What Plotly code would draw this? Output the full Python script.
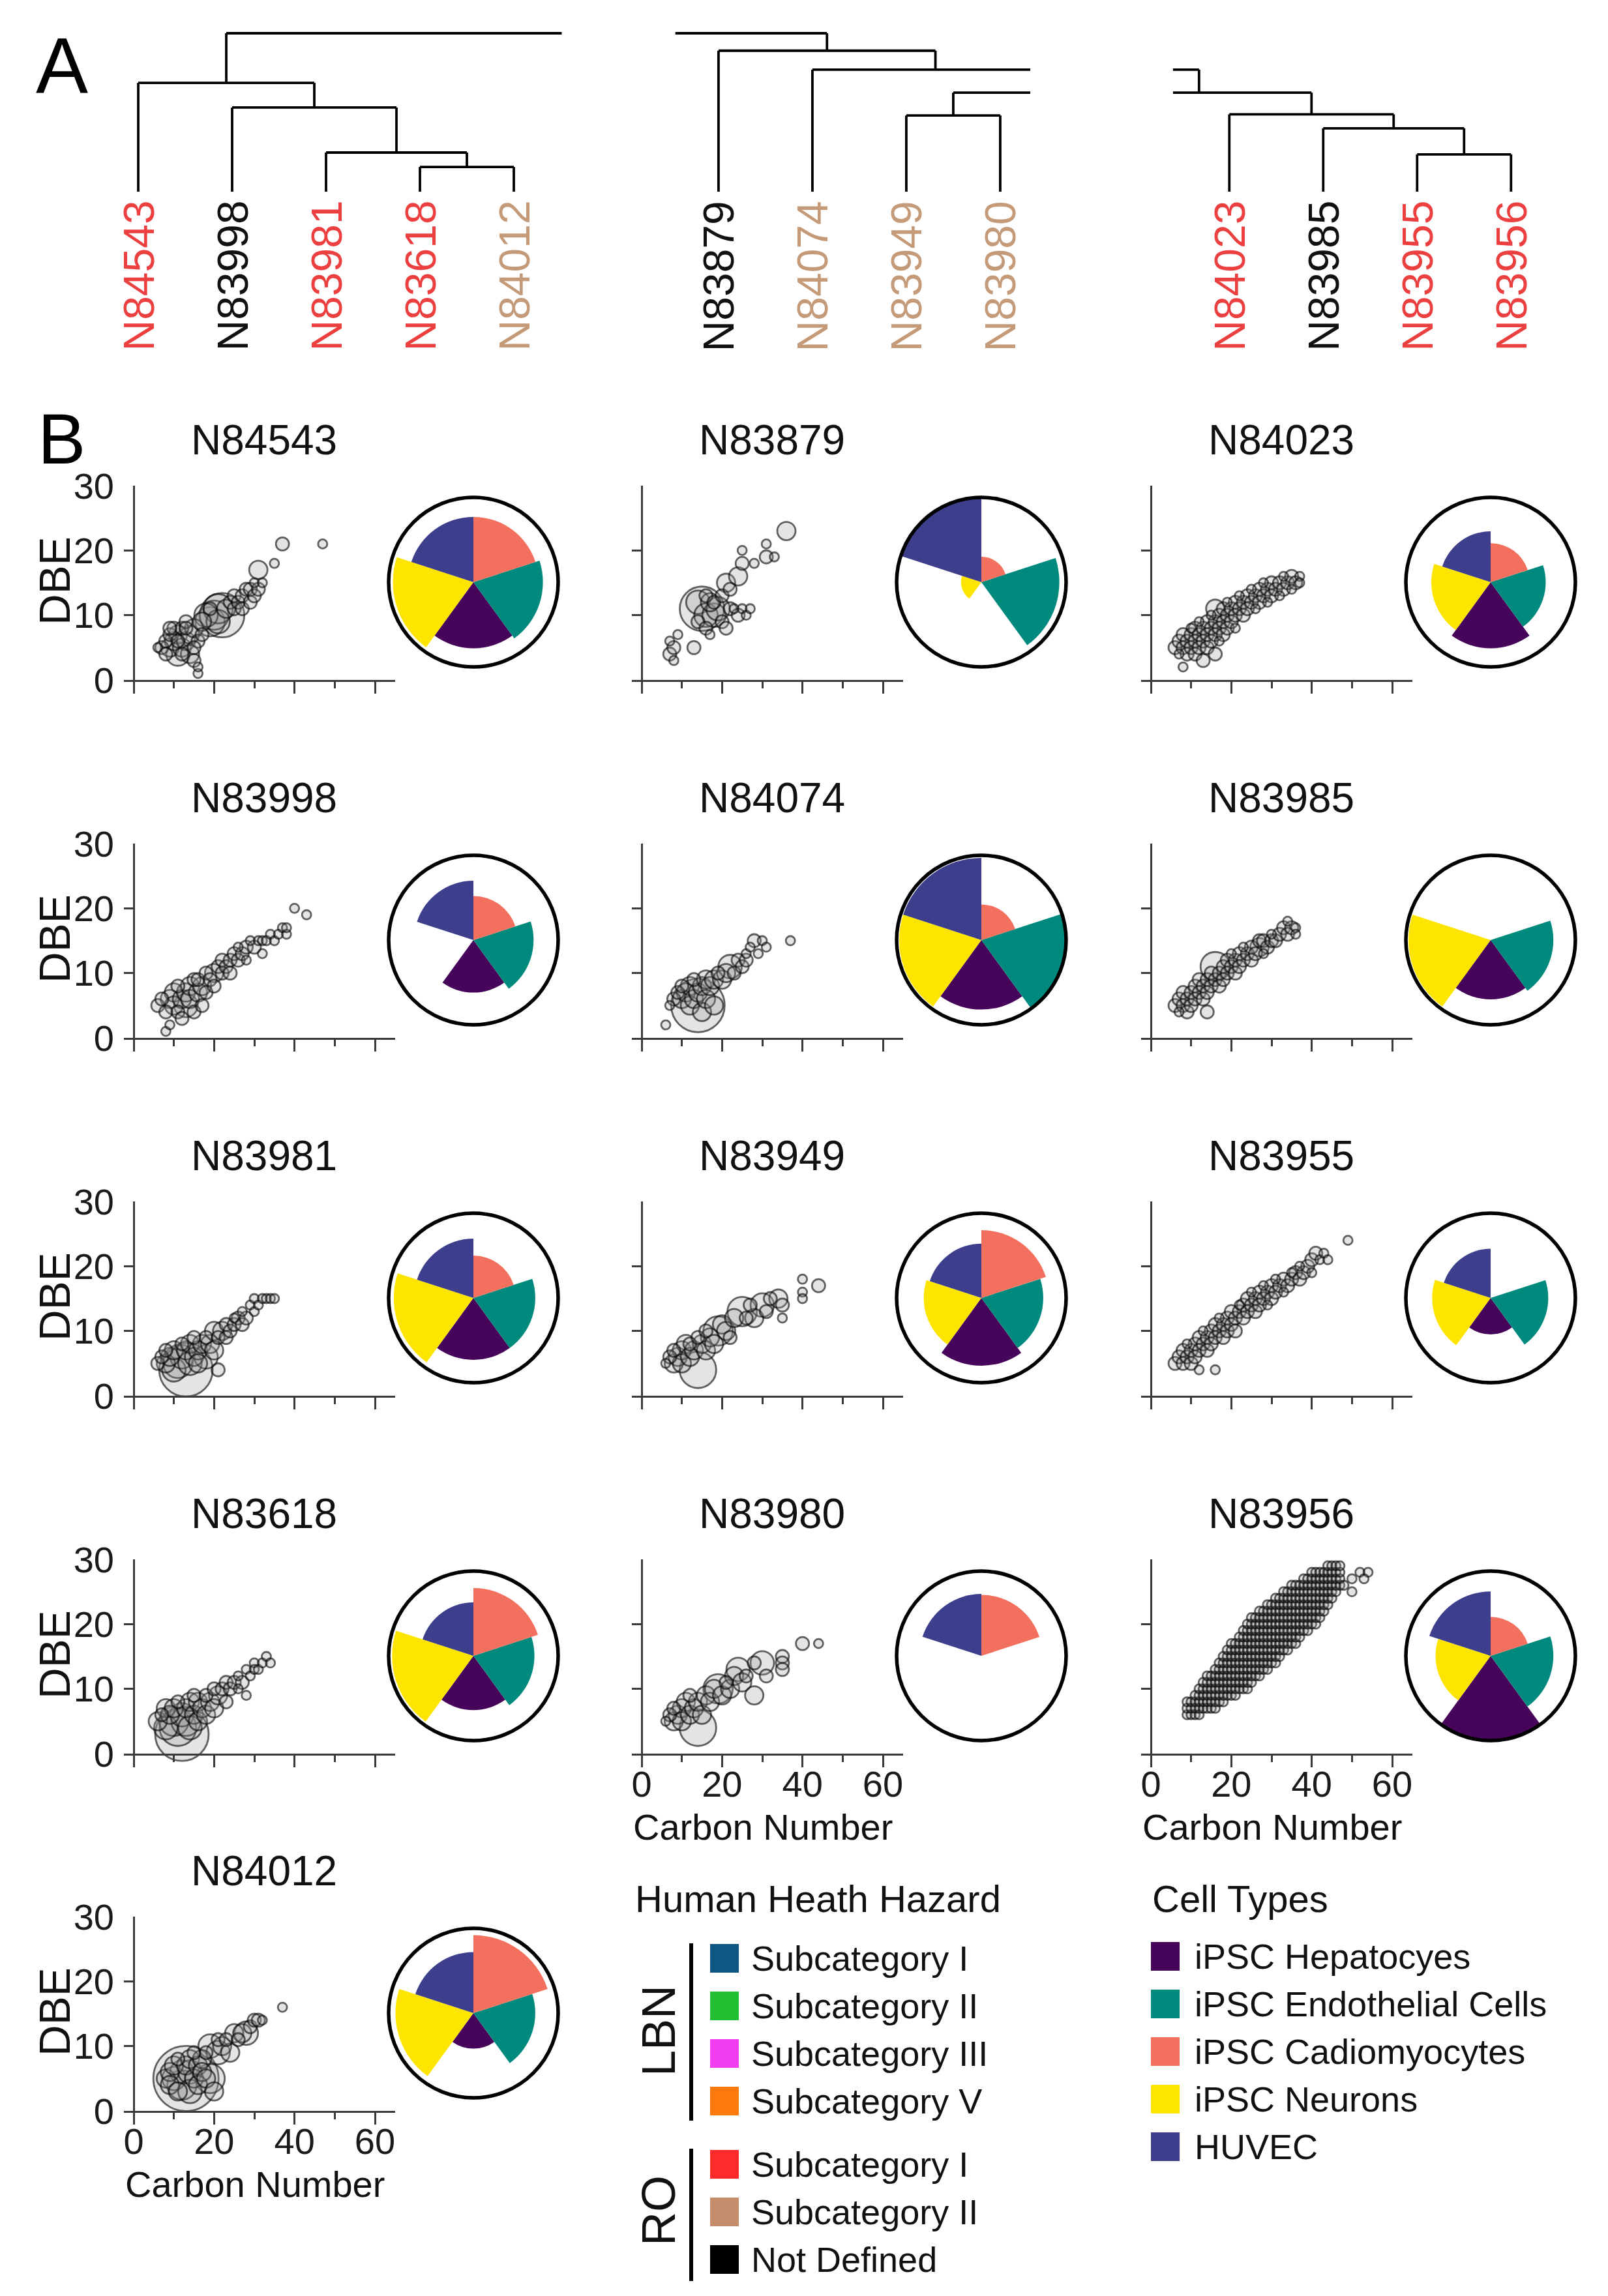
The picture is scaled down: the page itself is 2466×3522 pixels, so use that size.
import plotly.graph_objects as go

# ------------------------------------------------------------------ canvas
W, H = 2466, 3522
OFF = 8                      # browser body margin compensation
FW, FH = W - 2 * OFF, H - 2 * OFF
FONT = "Liberation Sans, Arial, Helvetica, sans-serif"


def px_x(p):
    return (p - OFF) / FW


def px_y(p):
    return 1 - (p - OFF) / FH


# ------------------------------------------------------------------ DATA
# Panel A: dendrogram
leaf_names = ["N84543", "N83998", "N83981", "N83618", "N84012",
              "N83879", "N84074", "N83949", "N83980",
              "N84023", "N83985", "N83955", "N83956"]
leaf_group = [0, 0, 0, 0, 0, 1, 1, 1, 1, 2, 2, 2, 2]
leaf_hazard = ["RO I", "RO ND", "RO I", "RO I", "RO II",
               "RO ND", "RO II", "RO II", "RO II",
               "RO I", "RO ND", "RO I", "RO I"]
# hidden leaves of the parts of the tree that are cut out of the figure
ghost_leaves = {"gA": 10.92, "gC": 10.1, "gD": 9.9}
# (node, left child, right child, height)
merges = [
    ("m1", "N83618", "N84012", 1.56),
    ("m2", "N83981", "m1", 2.47),
    ("m3", "N83998", "m2", 5.31),
    ("m4", "N84543", "m3", 6.87),
    ("m5", "N83949", "N83980", 4.81),
    ("nY", "m5", "gA", 6.25),
    ("nX", "N84074", "nY", 7.7),
    ("nV", "N83879", "nX", 8.9),
    ("nR", "m4", "nV", 10.0),
    ("m6", "N83955", "N83956", 2.35),
    ("m7", "N83985", "m6", 4.0),
    ("m8", "N84023", "m7", 4.88),
    ("nZ", "gC", "m8", 6.25),
    ("nW", "gD", "nZ", 7.7),
]
# visible pieces of the tree (leaf units)
visible_windows = [(-1.0, 4.51), (5.72, 9.5), (11.02, 15.2)]

# Panel B: cell types (pie sectors)
cell_types = ["iPSC Hepatocyes", "iPSC Endothelial Cells", "iPSC Cadiomyocytes",
              "iPSC Neurons", "HUVEC"]
cell_theta = [180, 108, 36, 252, 324]
# relative activity per cell type (order as cell_types)
pie_N84543 = [0.78, 0.82, 0.77, 0.95, 0.77]
pie_N83998 = [0.62, 0.71, 0.52, 0.00, 0.70]
pie_N83981 = [0.73, 0.73, 0.50, 0.94, 0.70]
pie_N83618 = [0.64, 0.72, 0.80, 0.96, 0.63]
pie_N84012 = [0.42, 0.73, 0.92, 0.92, 0.72]
pie_N83879 = [0.00, 0.92, 0.30, 0.24, 1.00]
pie_N84074 = [0.82, 1.00, 0.42, 0.97, 0.97]
pie_N83949 = [0.80, 0.73, 0.80, 0.68, 0.64]
pie_N83980 = [0.00, 0.00, 0.72, 0.00, 0.73]
pie_N84023 = [0.78, 0.65, 0.46, 0.70, 0.60]
pie_N83985 = [0.70, 0.74, 0.00, 0.97, 0.00]
pie_N83955 = [0.43, 0.68, 0.00, 0.69, 0.58]
pie_N83956 = [1.00, 0.74, 0.46, 0.65, 0.76]

# Carbon number / DBE bubbles: (carbon number, DBE, relative abundance level)
pts_N84543 = [(6, 5, 1), (7, 5, 2), (8, 6, 2), (8, 4, 2), (9, 7, 2), (9, 5, 3), (10, 6, 3),
              (10, 8, 2), (11, 4, 4), (11, 7, 3), (12, 5, 3), (12, 8, 2), (13, 6, 3), (13, 9, 2),
              (14, 4, 3), (14, 7, 3), (15, 8, 3), (15, 3, 2), (16, 1, 1), (16, 2, 1), (16, 6, 2),
              (17, 9, 3), (18, 10, 4), (19, 9, 5), (20, 10, 5), (22, 10, 7), (21, 11, 5),
              (21, 9, 4), (23, 11, 3), (24, 12, 2), (25, 11, 2), (25, 13, 2), (26, 12, 2),
              (27, 13, 2), (27, 11, 2), (28, 14, 2), (29, 12, 2), (29, 14, 2), (30, 13, 2),
              (30, 15, 1), (31, 14, 2), (31, 17, 3), (32, 15, 1), (35, 18, 1), (37, 21, 2),
              (47, 21, 1), (9, 8, 2), (11, 6, 2), (12, 4, 2), (13, 8, 2), (15, 5, 2),
              (17, 7, 2), (19, 11, 2)]
pts_N83998 = [(6, 5, 2), (7, 6, 2), (8, 4, 2), (8, 1, 1), (9, 2, 1), (9, 6, 3), (10, 7, 3),
              (10, 5, 3), (11, 4, 2), (11, 8, 2), (12, 6, 3), (12, 3, 2), (13, 7, 3), (13, 5, 4),
              (14, 8, 3), (14, 6, 3), (15, 4, 2), (15, 9, 2), (16, 7, 3), (16, 9, 2), (17, 8, 3),
              (17, 5, 2), (18, 10, 2), (18, 7, 2), (19, 9, 2), (20, 10, 3), (20, 8, 2),
              (21, 11, 2), (22, 10, 2), (22, 12, 2), (23, 11, 2), (24, 12, 2), (24, 10, 2),
              (25, 13, 2), (26, 12, 2), (26, 14, 1), (27, 13, 2), (28, 14, 2), (28, 12, 1),
              (29, 15, 1), (30, 14, 2), (31, 15, 1), (32, 13, 1), (32, 15, 1), (33, 15, 1),
              (34, 16, 1), (35, 15, 1), (36, 16, 1), (37, 17, 1), (38, 16, 1), (38, 17, 1),
              (40, 20, 1), (43, 19, 1)]
pts_N83981 = [(6, 5, 2), (7, 6, 2), (8, 5, 3), (8, 7, 2), (9, 6, 3), (10, 4, 4), (10, 7, 3),
              (11, 5, 5), (12, 6, 4), (12, 8, 2), (13, 4, 8), (13, 7, 3), (14, 5, 4), (14, 8, 3),
              (15, 6, 3), (15, 9, 2), (16, 7, 3), (16, 5, 3), (17, 8, 3), (18, 9, 2), (18, 6, 4),
              (19, 8, 3), (20, 10, 3), (20, 7, 3), (21, 9, 2), (21, 4, 2), (22, 10, 3),
              (23, 11, 2), (23, 9, 2), (24, 10, 2), (25, 11, 2), (25, 12, 1), (26, 12, 2),
              (27, 11, 2), (27, 13, 1), (28, 12, 2), (29, 14, 1), (30, 13, 1), (30, 15, 1),
              (31, 14, 1), (32, 15, 1), (33, 15, 1), (34, 15, 1), (35, 15, 1)]
pts_N83618 = [(6, 5, 3), (7, 6, 2), (8, 7, 3), (8, 4, 4), (9, 6, 3), (10, 5, 5), (10, 7, 3),
              (11, 4, 6), (11, 8, 2), (12, 3, 8), (12, 6, 4), (13, 5, 5), (13, 7, 3), (14, 4, 4),
              (14, 8, 3), (15, 6, 3), (15, 9, 2), (16, 5, 3), (16, 8, 3), (17, 7, 3), (18, 9, 2),
              (18, 6, 3), (19, 8, 3), (20, 10, 2), (20, 7, 3), (21, 9, 3), (22, 10, 2),
              (23, 11, 2), (23, 8, 2), (24, 10, 2), (25, 11, 2), (26, 12, 1), (26, 10, 1),
              (27, 11, 2), (28, 9, 1), (28, 13, 1), (29, 12, 1), (30, 14, 1), (30, 13, 1),
              (31, 13, 1), (32, 14, 1), (33, 15, 1), (34, 14, 1)]
pts_N84012 = [(8, 5, 3), (9, 6, 3), (9, 4, 3), (10, 7, 3), (10, 5, 4), (11, 8, 2), (11, 3, 3),
              (12, 6, 4), (12, 4, 5), (13, 5, 9), (13, 7, 3), (14, 8, 3), (14, 6, 4), (14, 3, 4),
              (15, 9, 2), (15, 5, 3), (16, 7, 3), (16, 4, 3), (17, 8, 3), (17, 6, 3), (18, 9, 2),
              (18, 5, 3), (19, 10, 4), (19, 5, 5), (20, 3, 3), (21, 9, 4), (21, 11, 2),
              (22, 10, 3), (23, 11, 2), (24, 9, 3), (25, 12, 3), (26, 11, 2), (27, 12, 3),
              (28, 12, 4), (29, 13, 2), (30, 14, 2), (31, 14, 2), (32, 14, 1), (37, 16, 1)]
pts_N83879 = [(7, 4, 2), (7, 6, 1), (8, 5, 2), (9, 7, 1), (8, 3, 1), (13, 5, 2), (14, 9, 2),
              (14, 12, 4), (15, 11, 7), (16, 10, 4), (16, 8, 2), (16, 13, 2), (17, 12, 3),
              (17, 7, 1), (18, 10, 4), (18, 12, 2), (19, 11, 4), (20, 9, 2), (20, 13, 2),
              (21, 8, 2), (21, 15, 3), (22, 11, 2), (22, 14, 2), (23, 11, 1), (24, 16, 3),
              (24, 10, 2), (25, 11, 1), (25, 18, 2), (26, 10, 1), (27, 11, 1), (25, 20, 1),
              (28, 18, 1), (31, 19, 2), (33, 19, 1), (31, 21, 1), (36, 23, 3)]
pts_N84074 = [(6, 2, 1), (7, 5, 1), (8, 6, 2), (9, 7, 2), (10, 6, 3), (10, 8, 2), (11, 7, 3),
              (12, 8, 3), (12, 5, 3), (13, 6, 3), (13, 9, 2), (14, 7, 3), (14, 5, 8), (15, 8, 3),
              (15, 4, 3), (16, 9, 3), (16, 6, 3), (17, 8, 3), (18, 9, 3), (18, 5, 3), (19, 10, 2),
              (20, 9, 3), (21, 10, 3), (22, 11, 4), (23, 10, 2), (24, 12, 2), (25, 11, 2),
              (26, 12, 2), (26, 13, 1), (27, 14, 1), (28, 15, 2), (29, 13, 1), (30, 15, 1),
              (31, 14, 1), (37, 15, 1)]
pts_N83949 = [(6, 5, 1), (7, 6, 2), (8, 5, 3), (8, 7, 2), (9, 6, 3), (10, 7, 3), (10, 5, 3),
              (11, 8, 3), (12, 6, 3), (12, 8, 2), (13, 7, 3), (14, 9, 2), (14, 4, 6), (15, 8, 3),
              (16, 7, 3), (16, 10, 2), (17, 9, 3), (18, 8, 3), (19, 10, 5), (20, 11, 3),
              (21, 10, 3), (22, 9, 2), (23, 12, 3), (25, 13, 5), (26, 12, 2), (27, 14, 2),
              (28, 12, 3), (30, 14, 4), (31, 13, 2), (32, 15, 2), (34, 15, 3), (35, 14, 2),
              (35, 12, 1), (40, 18, 1), (40, 16, 1), (40, 15, 1), (44, 17, 2)]
pts_N83980 = [(6, 5, 1), (7, 6, 2), (8, 5, 3), (8, 7, 2), (9, 6, 3), (10, 7, 3), (10, 5, 3),
              (11, 8, 3), (12, 6, 3), (12, 9, 2), (13, 7, 3), (14, 8, 3), (14, 4, 6), (15, 6, 3),
              (16, 9, 3), (17, 8, 3), (18, 10, 3), (19, 10, 5), (20, 9, 3), (21, 11, 2),
              (22, 10, 3), (23, 12, 3), (24, 13, 4), (25, 11, 3), (26, 12, 2), (28, 9, 3),
              (28, 14, 2), (30, 14, 4), (31, 12, 2), (35, 15, 2), (35, 14, 2), (35, 13, 2),
              (40, 17, 2), (44, 17, 1)]
pts_N84023 = [(6, 5, 2), (7, 6, 2), (7, 4, 1), (8, 5, 2), (8, 7, 2), (8, 2, 1), (9, 6, 2),
              (9, 4, 2), (10, 7, 2), (10, 5, 2), (10, 8, 1), (11, 6, 2), (11, 4, 2), (11, 8, 2),
              (12, 7, 2), (12, 5, 2), (12, 9, 1), (13, 8, 2), (13, 6, 2), (13, 3, 2), (14, 9, 2),
              (14, 7, 2), (14, 5, 2), (15, 8, 2), (15, 6, 2), (15, 10, 1), (16, 11, 3),
              (16, 9, 2), (16, 7, 2), (16, 4, 2), (17, 10, 2), (17, 8, 2), (17, 6, 1),
              (18, 9, 2), (18, 11, 2), (18, 7, 2), (19, 10, 2), (19, 8, 2), (19, 12, 1),
              (20, 11, 2), (20, 9, 2), (21, 10, 2), (21, 12, 2), (21, 8, 1), (22, 11, 2),
              (22, 13, 1), (23, 12, 2), (23, 10, 2), (24, 11, 2), (24, 13, 2), (25, 12, 2),
              (25, 14, 1), (26, 13, 2), (26, 11, 1), (27, 12, 2), (27, 14, 2), (28, 13, 2),
              (28, 15, 1), (29, 14, 2), (29, 12, 1), (30, 13, 2), (30, 15, 2), (31, 14, 2),
              (32, 15, 2), (32, 13, 1), (33, 14, 2), (33, 16, 1), (34, 15, 2), (35, 16, 2),
              (35, 14, 1), (36, 15, 2), (37, 16, 1), (37, 15, 1)]
pts_N83985 = [(6, 5, 2), (7, 6, 2), (7, 4, 1), (8, 5, 2), (8, 7, 2), (9, 6, 2), (9, 4, 2),
              (10, 7, 2), (10, 5, 2), (11, 8, 2), (11, 6, 2), (12, 7, 2), (12, 9, 2), (13, 8, 2),
              (13, 6, 2), (14, 9, 2), (14, 4, 2), (14, 7, 2), (15, 10, 2), (15, 8, 2),
              (16, 11, 5), (16, 9, 2), (17, 10, 2), (17, 8, 2), (18, 11, 2), (18, 9, 2),
              (19, 12, 2), (19, 10, 2), (20, 11, 2), (20, 13, 1), (21, 12, 2), (21, 10, 2),
              (22, 13, 2), (22, 11, 2), (23, 12, 2), (23, 14, 1), (24, 13, 2), (25, 14, 2),
              (25, 12, 2), (26, 13, 2), (27, 14, 3), (27, 15, 2), (28, 15, 2), (28, 13, 1),
              (29, 14, 2), (30, 15, 2), (30, 16, 1), (31, 15, 2), (32, 16, 2), (33, 17, 2),
              (34, 18, 1), (34, 16, 2), (35, 17, 2), (36, 17, 1), (36, 16, 1)]
pts_N83955 = [(6, 5, 2), (7, 6, 2), (8, 5, 2), (8, 7, 2), (9, 6, 2), (9, 8, 1), (10, 7, 2),
              (10, 5, 2), (11, 8, 2), (11, 6, 2), (12, 7, 2), (12, 9, 2), (12, 4, 1), (13, 8, 2),
              (13, 10, 1), (14, 9, 2), (14, 7, 2), (15, 10, 2), (15, 8, 2), (16, 4, 1),
              (16, 9, 2), (16, 11, 2), (17, 10, 2), (17, 12, 1), (18, 11, 2), (18, 9, 2),
              (19, 12, 2), (19, 10, 2), (20, 13, 2), (20, 11, 2), (21, 12, 2), (21, 10, 2),
              (22, 13, 2), (22, 14, 1), (23, 12, 2), (23, 14, 2), (24, 13, 2), (24, 15, 2),
              (25, 14, 2), (25, 16, 1), (26, 15, 2), (26, 13, 2), (27, 16, 2), (27, 14, 2),
              (28, 15, 2), (28, 17, 1), (29, 16, 2), (29, 14, 1), (30, 17, 2), (30, 15, 2),
              (31, 16, 2), (31, 18, 1), (32, 17, 2), (33, 18, 2), (33, 16, 1), (34, 17, 2),
              (35, 18, 2), (35, 19, 1), (36, 19, 2), (37, 18, 2), (37, 20, 1), (38, 19, 2),
              (39, 20, 2), (40, 21, 2), (40, 19, 1), (41, 22, 2), (42, 21, 1), (43, 22, 1),
              (44, 21, 1), (49, 24, 1)]
# N83956 is a dense grid: for each carbon number the DBE span that is filled
band_N83956_c = [9, 10, 11, 12, 13, 14, 15, 16, 17, 18, 19, 20, 21, 22, 23, 24, 25, 26, 27, 28,
                 29, 30, 31, 32, 33, 34, 35, 36, 37, 38, 39, 40, 41, 42, 43, 44, 45, 46, 47]
band_N83956_lo = [6, 6, 6, 6, 7, 7, 7, 7, 8, 8, 9, 9, 9, 10, 10, 10, 11, 12, 12, 13,
                  13, 14, 14, 15, 16, 16, 17, 17, 18, 19, 19, 20, 20, 21, 22, 23, 24, 25, 26]
band_N83956_hi = [8, 8, 9, 10, 11, 12, 12, 13, 14, 15, 16, 17, 17, 18, 19, 20, 21, 21, 22, 22,
                  23, 23, 24, 24, 25, 25, 26, 26, 26, 27, 27, 28, 28, 28, 28, 29, 29, 29, 29]
extra_N83956 = [(48, 31, 1), (49, 32, 1), (50, 33, 1), (51, 34, 1), (52, 33, 1), (53, 34, 1),
                (54, 32, 1), (55, 31, 1), (56, 33, 1), (57, 32, 1), (49, 31, 1), (51, 32, 1),
                (50, 27, 1), (52, 28, 1), (54, 28, 1), (50, 25, 1), (48, 26, 1), (53, 27, 1)]

x_tick_labels = ["0", "20", "40", "60"]
y_tick_labels = ["0", "10", "20", "30"]

# ------------------------------------------------------------------ styles
hazard_colors = {"RO I": "#EC4040", "RO II": "#C49A78", "RO ND": "#111111"}
cell_colors = ["#46045A", "#00897D", "#F4705E", "#FDE500", "#3D3F8C"]
lbn_labels = ["Subcategory I", "Subcategory II", "Subcategory III", "Subcategory V"]
lbn_colors = ["#0F5683", "#22BF33", "#F23DF0", "#FF7A0A"]
ro_labels = ["Subcategory I", "Subcategory II", "Not Defined"]
ro_colors = ["#FF2B2B", "#C48C6A", "#000000"]
level_px = [0, 14, 20, 28, 36, 45, 56, 68, 82, 100]
AX = "#3a3a3a"
TXT = "#111111"

fig = go.Figure()


def note(x, y, text, size, color=TXT, xanchor="center", yanchor="middle", angle=0,
         xref="paper"):
    return dict(x=x, y=y, xref=xref, yref="paper", text=text, showarrow=False,
                xanchor=xanchor, yanchor=yanchor, textangle=angle,
                font=dict(family=FONT, size=size, color=color))


# ------------------------------------------------------------------ Panel A
group_gap = [0.0, 1.18, 2.62]
pos = {n: i + group_gap[g] for i, (n, g) in enumerate(zip(leaf_names, leaf_group))}
hgt = {n: 0.0 for n in leaf_names}
pos.update(ghost_leaves)
segs = []
for node, a, b, h in merges:
    for c in (a, b):
        bottom = hgt.get(c, h)
        if bottom != h:
            segs.append(((pos[c], bottom), (pos[c], h)))
    segs.append(((pos[a], h), (pos[b], h)))
    pos[node] = (pos[a] + pos[b]) / 2
    hgt[node] = h

dx, dy = [], []
for (x1, y1), (x2, y2) in segs:
    if x1 == x2:
        if any(lo <= x1 <= hi for lo, hi in visible_windows):
            dx += [x1, x2, None]
            dy += [y1, y2, None]
    else:
        a, b = sorted([x1, x2])
        for lo, hi in visible_windows:
            s, e = max(a, lo), min(b, hi)
            if e > s:
                dx += [s, e, None]
                dy += [y1, y1, None]

fig.add_trace(go.Scatter(x=dx, y=dy, mode="lines", line=dict(color="black", width=3.8),
                         xaxis="x", yaxis="y", hoverinfo="skip", showlegend=False))

LEAF_PX0, LEAF_STEP = 212, 144
H0_PX, H_STEP = 294, 24.3
fig.update_layout(
    xaxis=dict(domain=[px_x(OFF), px_x(W - OFF)],
               range=[(OFF - LEAF_PX0) / LEAF_STEP, (W - OFF - LEAF_PX0) / LEAF_STEP],
               visible=False, fixedrange=True, automargin=False),
    yaxis=dict(domain=[px_y(310), px_y(30)],
               range=[(H0_PX - 310) / H_STEP, (H0_PX - 30) / H_STEP],
               visible=False, fixedrange=True, automargin=False),
)

annotations = []
for n, hz in zip(leaf_names, leaf_hazard):
    annotations.append(note(pos[n], px_y(306), n, 66, hazard_colors[hz],
                            yanchor="top", angle=-90, xref="x"))

annotations.append(note(px_x(95), px_y(100), "A", 120, "black"))
annotations.append(note(px_x(94), px_y(672), "B", 110, "black"))

# ------------------------------------------------------------------ Panel B
panels = [
    ("N84543", 0, 0, pts_N84543, pie_N84543),
    ("N83998", 0, 1, pts_N83998, pie_N83998),
    ("N83981", 0, 2, pts_N83981, pie_N83981),
    ("N83618", 0, 3, pts_N83618, pie_N83618),
    ("N84012", 0, 4, pts_N84012, pie_N84012),
    ("N83879", 1, 0, pts_N83879, pie_N83879),
    ("N84074", 1, 1, pts_N84074, pie_N84074),
    ("N83949", 1, 2, pts_N83949, pie_N83949),
    ("N83980", 1, 3, pts_N83980, pie_N83980),
    ("N84023", 2, 0, pts_N84023, pie_N84023),
    ("N83985", 2, 1, pts_N83985, pie_N83985),
    ("N83955", 2, 2, pts_N83955, pie_N83955),
    ("N83956", 2, 3, None, pie_N83956),
]
bottom_row = {0: 4, 1: 3, 2: 3}
col_x0 = [205, 984, 1765]
row_y0 = [1043, 1592, 2141, 2690, 3238]
PX_PER_C = 370 / 60

pts_N83956 = []
for c, lo, hi in zip(band_N83956_c, band_N83956_lo, band_N83956_hi):
    for d in range(lo, hi + 1):
        pts_N83956.append((c, d, 1))
pts_N83956 += extra_N83956

layout_upd = {}
for k, (name, col, row, pts, pie) in enumerate(panels):
    if pts is None:
        pts = pts_N83956
    i = k + 2
    x0, y0 = col_x0[col], row_y0[row]
    is_bottom = bottom_row[col] == row
    pts_sorted = sorted(pts, key=lambda p: -p[2])
    fig.add_trace(go.Scatter(
        x=[p[0] for p in pts_sorted], y=[p[1] for p in pts_sorted], mode="markers",
        marker=dict(size=[level_px[p[2]] for p in pts_sorted], symbol="circle",
                    color="rgba(155,155,155,0.38)",
                    line=dict(color="rgba(12,12,12,0.92)", width=2.8)),
        cliponaxis=False, xaxis=f"x{i}", yaxis=f"y{i}", hoverinfo="skip", showlegend=False))

    layout_upd[f"xaxis{i}"] = dict(
        domain=[px_x(x0 - 15), px_x(x0 + 401)], range=[-15 / PX_PER_C, 401 / PX_PER_C],
        anchor=f"y{i}", showgrid=False, zeroline=True, zerolinecolor=AX, zerolinewidth=3,
        showline=True, linecolor=AX, linewidth=3, automargin=False,
        tickmode="array", tickvals=[0, 20, 40, 60], ticktext=x_tick_labels,
        ticks="outside", ticklen=18, tickwidth=3, tickcolor=AX,
        minor=dict(tickvals=[10, 30, 50], ticks="outside", ticklen=10, tickwidth=3,
                   tickcolor=AX, showgrid=False),
        showticklabels=is_bottom, ticklabelstandoff=-22,
        tickfont=dict(family=FONT, size=56, color="#1a1a1a"), fixedrange=True)
    layout_upd[f"yaxis{i}"] = dict(
        domain=[px_y(y0), px_y(y0 - 298)], range=[0, 30], anchor=f"x{i}",
        showgrid=False, zeroline=False, showline=False, automargin=False,
        tickmode="array", tickvals=[0, 10, 20, 30], ticktext=y_tick_labels,
        ticks="inside", ticklen=15, tickwidth=3, tickcolor=AX,
        showticklabels=(col == 0), ticklabelstandoff=14,
        tickfont=dict(family=FONT, size=56, color="#1a1a1a"), fixedrange=True)

    annotations.append(note(px_x(x0 + 200), px_y(y0 - 368), name, 64))
    if col == 0:
        annotations.append(note(px_x(84), px_y(y0 - 152), "DBE", 66, angle=-90))
    if is_bottom:
        annotations.append(note(px_x(x0 + 186), px_y(y0 + 112), "Carbon Number", 56))

    # pie (polar bar)
    p = k + 1
    cx, cy, rr = x0 + 521, y0 - 150, 130
    fig.add_trace(go.Barpolar(r=pie, theta=cell_theta, width=[72] * 5,
                              marker=dict(color=cell_colors, line=dict(width=0)),
                              subplot=f"polar{p}", hoverinfo="skip", showlegend=False))
    layout_upd[f"polar{p}"] = dict(
        domain=dict(x=[px_x(cx - rr), px_x(cx + rr)], y=[px_y(cy + rr), px_y(cy - rr)]),
        bgcolor="white", bargap=0, hole=0,
        radialaxis=dict(visible=False, range=[0, 1]),
        angularaxis=dict(visible=True, showline=True, linecolor="black", linewidth=5.5,
                         showgrid=False, showticklabels=False, ticks="",
                         direction="clockwise", rotation=90))

fig.update_layout(**layout_upd)

# ------------------------------------------------------------------ legends
shapes = []
annotations.append(note(px_x(972), px_y(2912), "Human Heath Hazard", 58, xanchor="left"))
annotations.append(note(px_x(1765), px_y(2912), "Cell Types", 58, xanchor="left"))

SQ = 44
STEP = 73
lbn_y = [3004 + STEP * j for j in range(len(lbn_labels))]
ro_y = [3320 + STEP * j for j in range(len(ro_labels))]
cell_y = [3001 + STEP * j for j in range(len(cell_types))]

for labels, colors, ys in ((lbn_labels, lbn_colors, lbn_y), (ro_labels, ro_colors, ro_y)):
    for lab, colr, yy in zip(labels, colors, ys):
        shapes.append(dict(type="rect", xref="paper", yref="paper",
                           x0=px_x(1089), x1=px_x(1089 + SQ),
                           y0=px_y(yy + SQ / 2), y1=px_y(yy - SQ / 2),
                           fillcolor=colr, line=dict(width=0)))
        annotations.append(note(px_x(1150), px_y(yy), lab, 54, xanchor="left"))

for lab, colr, yy in zip(cell_types, cell_colors, cell_y):
    shapes.append(dict(type="rect", xref="paper", yref="paper",
                       x0=px_x(1765), x1=px_x(1765 + SQ),
                       y0=px_y(yy + SQ / 2), y1=px_y(yy - SQ / 2),
                       fillcolor=colr, line=dict(width=0)))
    annotations.append(note(px_x(1830), px_y(yy), lab, 54, xanchor="left"))

for (ytop, ybot, gname, ymid) in ((2981, 3253, "LBN", 3115), (3296, 3499, "RO", 3391)):
    shapes.append(dict(type="line", xref="paper", yref="paper",
                       x0=px_x(1060), x1=px_x(1060), y0=px_y(ytop), y1=px_y(ybot),
                       line=dict(color="black", width=6)))
    annotations.append(note(px_x(1010), px_y(ymid), gname, 72, angle=-90))

fig.update_layout(
    width=FW, height=FH, margin=dict(l=0, r=0, t=0, b=0, pad=0, autoexpand=False),
    paper_bgcolor="white", plot_bgcolor="white", showlegend=False,
    annotations=annotations, shapes=shapes,
    font=dict(family=FONT),
)

fig.write_html("out.html")
